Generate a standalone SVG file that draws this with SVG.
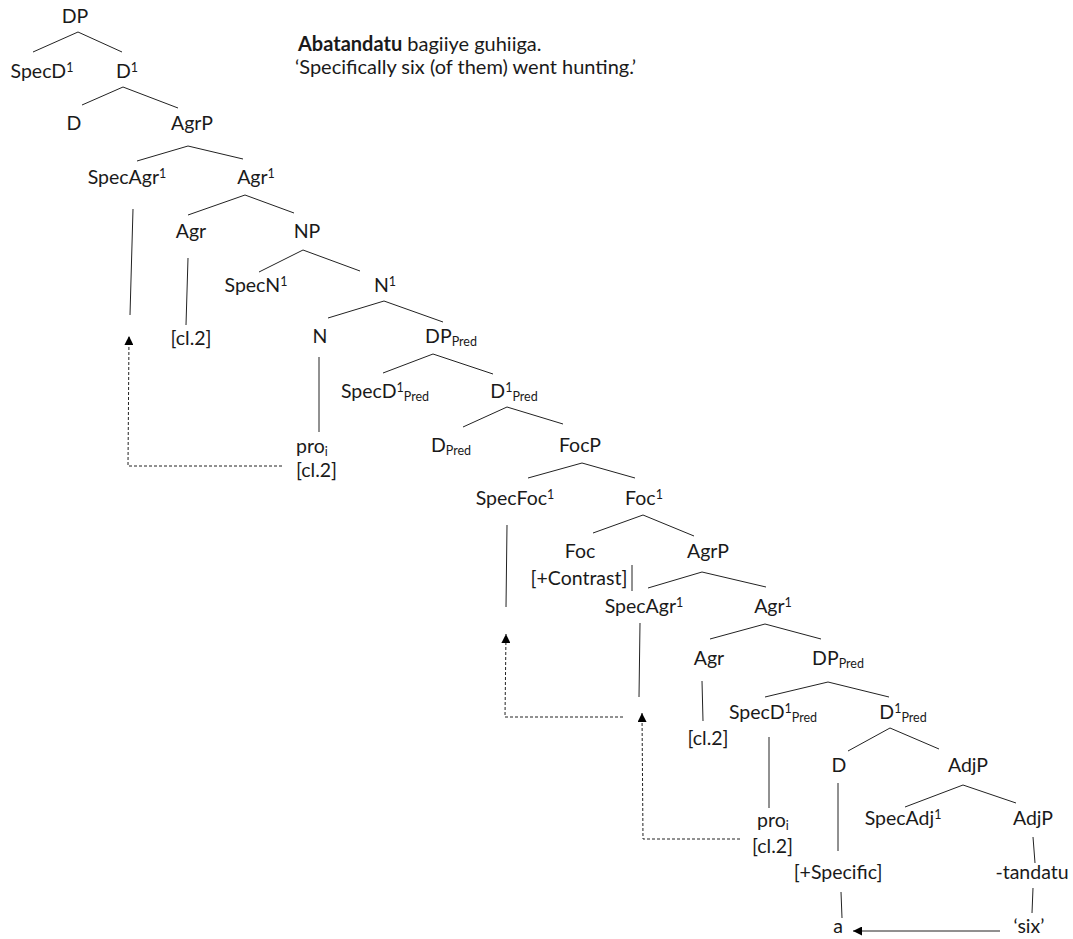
<svg xmlns="http://www.w3.org/2000/svg" width="1073" height="939" viewBox="0 0 1073 939">
  <style>
    text { font-family: Lato, "Liberation Sans", sans-serif; font-size: 19.5px; fill: #1a1a1a; }
    .c { text-anchor: middle; }
    .s { font-size: 12.5px; }
    .b { font-weight: bold; }
    .g { font-size: 20px; }
    .e line, .e polyline { stroke: #222; stroke-width: 1; fill: none; }
    .e .d { stroke-dasharray: 3 2; }
  </style>
  <defs>
    <marker id="tri" viewBox="0 0 10 10" refX="10" refY="5" markerWidth="10" markerHeight="9" markerUnits="userSpaceOnUse" orient="auto">
      <path d="M0,0 L10,5 L0,10 z" fill="#000"/>
    </marker>
  </defs>

  <!-- example sentence and gloss -->
  <g id="gloss">
    <text class="g" x="298" y="51"><tspan class="b">Abatandatu</tspan> bagiiye guhiiga.</text>
    <text class="g" x="295" y="74">‘Specifically six (of them) went hunting.’</text>
  </g>

  <!-- tree branches and movement arrows -->
  <g id="connectors" class="e">
    <line x1="78" y1="32" x2="33" y2="52"/>
    <line x1="78" y1="32" x2="122" y2="52"/>
    <line x1="123" y1="87" x2="82" y2="105"/>
    <line x1="123" y1="87" x2="178" y2="108"/>
    <line x1="188" y1="146" x2="137" y2="161"/>
    <line x1="188" y1="146" x2="243" y2="159"/>
    <line x1="245" y1="195" x2="188" y2="215"/>
    <line x1="245" y1="195" x2="294" y2="213"/>
    <line x1="133" y1="209" x2="130" y2="315"/>
    <line x1="188" y1="258" x2="186" y2="325"/>
    <line x1="303" y1="250" x2="259" y2="272"/>
    <line x1="303" y1="250" x2="360" y2="271"/>
    <line x1="384" y1="301" x2="328" y2="318"/>
    <line x1="384" y1="301" x2="443" y2="322"/>
    <line x1="319" y1="357" x2="319" y2="432"/>
    <line x1="433" y1="354" x2="383" y2="373"/>
    <line x1="433" y1="354" x2="493" y2="374"/>
    <line x1="507" y1="407" x2="463" y2="427"/>
    <line x1="507" y1="407" x2="563" y2="424"/>
    <line x1="582" y1="463" x2="528" y2="478"/>
    <line x1="582" y1="463" x2="635" y2="478"/>
    <line x1="643" y1="515" x2="593" y2="533"/>
    <line x1="643" y1="515" x2="694" y2="536"/>
    <line x1="507" y1="525" x2="506" y2="607"/>
    <line x1="632" y1="565" x2="632" y2="591"/>
    <line x1="702" y1="572" x2="648" y2="588"/>
    <line x1="702" y1="572" x2="766" y2="587"/>
    <line x1="765" y1="624" x2="710" y2="639"/>
    <line x1="765" y1="624" x2="821" y2="639"/>
    <line x1="640" y1="623" x2="639" y2="697"/>
    <line x1="702" y1="681" x2="703" y2="721"/>
    <line x1="828" y1="682" x2="765" y2="697"/>
    <line x1="828" y1="682" x2="889" y2="697"/>
    <line x1="769" y1="737" x2="769" y2="808"/>
    <line x1="890" y1="728" x2="848" y2="751"/>
    <line x1="890" y1="728" x2="939" y2="749"/>
    <line x1="838" y1="783" x2="838" y2="851"/>
    <line x1="963" y1="785" x2="905" y2="807"/>
    <line x1="963" y1="785" x2="1016" y2="803"/>
    <line x1="1033" y1="837" x2="1035" y2="863"/>
    <line x1="841" y1="892" x2="842" y2="918"/>
    <line x1="1033" y1="888" x2="1032" y2="913"/>
    <polyline class="d" points="282,466 128,466 129,336" marker-end="url(#tri)"/>
    <polyline class="d" points="623,717 505,717 506,634" marker-end="url(#tri)"/>
    <polyline class="d" points="740,839 643,839 642,713" marker-end="url(#tri)"/>
    <line x1="1000" y1="931" x2="853" y2="931" marker-end="url(#tri)"/>
  </g>

  <!-- tree nodes -->
  <g id="n-dp"><text class="c" x="75" y="23">DP</text></g>
  <g id="n-specd1"><text class="c" x="42" y="78">SpecD<tspan class="s" dy="-6">1</tspan></text></g>
  <g id="n-d1"><text class="c" x="127" y="78">D<tspan class="s" dy="-6">1</tspan></text></g>
  <g id="n-d"><text class="c" x="74" y="130">D</text></g>
  <g id="n-agrp"><text class="c" x="192" y="130">AgrP</text></g>
  <g id="n-specagr1"><text class="c" x="127" y="184">SpecAgr<tspan class="s" dy="-6">1</tspan></text></g>
  <g id="n-agr1"><text class="c" x="256" y="184">Agr<tspan class="s" dy="-6">1</tspan></text></g>
  <g id="n-agr"><text class="c" x="191" y="238">Agr</text></g>
  <g id="n-np"><text class="c" x="307" y="238">NP</text></g>
  <g id="n-specn1"><text class="c" x="256" y="292">SpecN<tspan class="s" dy="-6">1</tspan></text></g>
  <g id="n-n1"><text class="c" x="385" y="292">N<tspan class="s" dy="-6">1</tspan></text></g>
  <g id="n-cl2a"><text class="c" x="191" y="345">[cl.2]</text></g>
  <g id="n-n"><text class="c" x="320" y="343">N</text></g>
  <g id="n-dppred"><text class="c" x="451" y="343">DP<tspan class="s" dy="3">Pred</tspan></text></g>
  <g id="n-specd1pred"><text class="c" x="385" y="398">SpecD<tspan class="s" dy="-6">1</tspan><tspan class="s" dy="9">Pred</tspan></text></g>
  <g id="n-d1pred"><text class="c" x="514" y="398">D<tspan class="s" dy="-6">1</tspan><tspan class="s" dy="9">Pred</tspan></text></g>
  <g id="n-pro-a">
    <text x="296" y="453">pro<tspan class="s" dy="3">i</tspan></text>
    <text x="296" y="477">[cl.2]</text>
  </g>
  <g id="n-dpred"><text class="c" x="451" y="452">D<tspan class="s" dy="3">Pred</tspan></text></g>
  <g id="n-focp"><text class="c" x="580" y="452">FocP</text></g>
  <g id="n-specfoc1"><text class="c" x="515" y="505">SpecFoc<tspan class="s" dy="-6">1</tspan></text></g>
  <g id="n-foc1"><text class="c" x="644" y="505">Foc<tspan class="s" dy="-6">1</tspan></text></g>
  <g id="n-foc">
    <text class="c" x="580" y="558">Foc</text>
    <text class="c" x="579" y="585">[+Contrast]</text>
  </g>
  <g id="n-agrp2"><text class="c" x="708" y="558">AgrP</text></g>
  <g id="n-specagr1b"><text class="c" x="644" y="613">SpecAgr<tspan class="s" dy="-6">1</tspan></text></g>
  <g id="n-agr1b"><text class="c" x="773" y="613">Agr<tspan class="s" dy="-6">1</tspan></text></g>
  <g id="n-agrb"><text class="c" x="709" y="665">Agr</text></g>
  <g id="n-dppred2"><text class="c" x="838" y="665">DP<tspan class="s" dy="3">Pred</tspan></text></g>
  <g id="n-specd1pred2"><text class="c" x="773" y="719">SpecD<tspan class="s" dy="-6">1</tspan><tspan class="s" dy="9">Pred</tspan></text></g>
  <g id="n-d1pred2"><text class="c" x="903" y="719">D<tspan class="s" dy="-6">1</tspan><tspan class="s" dy="9">Pred</tspan></text></g>
  <g id="n-cl2b"><text class="c" x="708" y="745">[cl.2]</text></g>
  <g id="n-d2"><text class="c" x="839" y="772">D</text></g>
  <g id="n-adjp"><text class="c" x="968" y="772">AdjP</text></g>
  <g id="n-pro-b">
    <text x="757" y="827">pro<tspan class="s" dy="3">i</tspan></text>
    <text x="752" y="853">[cl.2]</text>
  </g>
  <g id="n-specadj1"><text class="c" x="903" y="825">SpecAdj<tspan class="s" dy="-6">1</tspan></text></g>
  <g id="n-adjp2"><text class="c" x="1033" y="825">AdjP</text></g>
  <g id="n-specific"><text class="c" x="838" y="879">[+Specific]</text></g>
  <g id="n-tandatu"><text class="c" x="1032" y="879">-tandatu</text></g>
  <g id="n-a"><text class="c" x="838" y="933">a</text></g>
  <g id="n-six"><text class="c" x="1029" y="933">‘six’</text></g>
</svg>
